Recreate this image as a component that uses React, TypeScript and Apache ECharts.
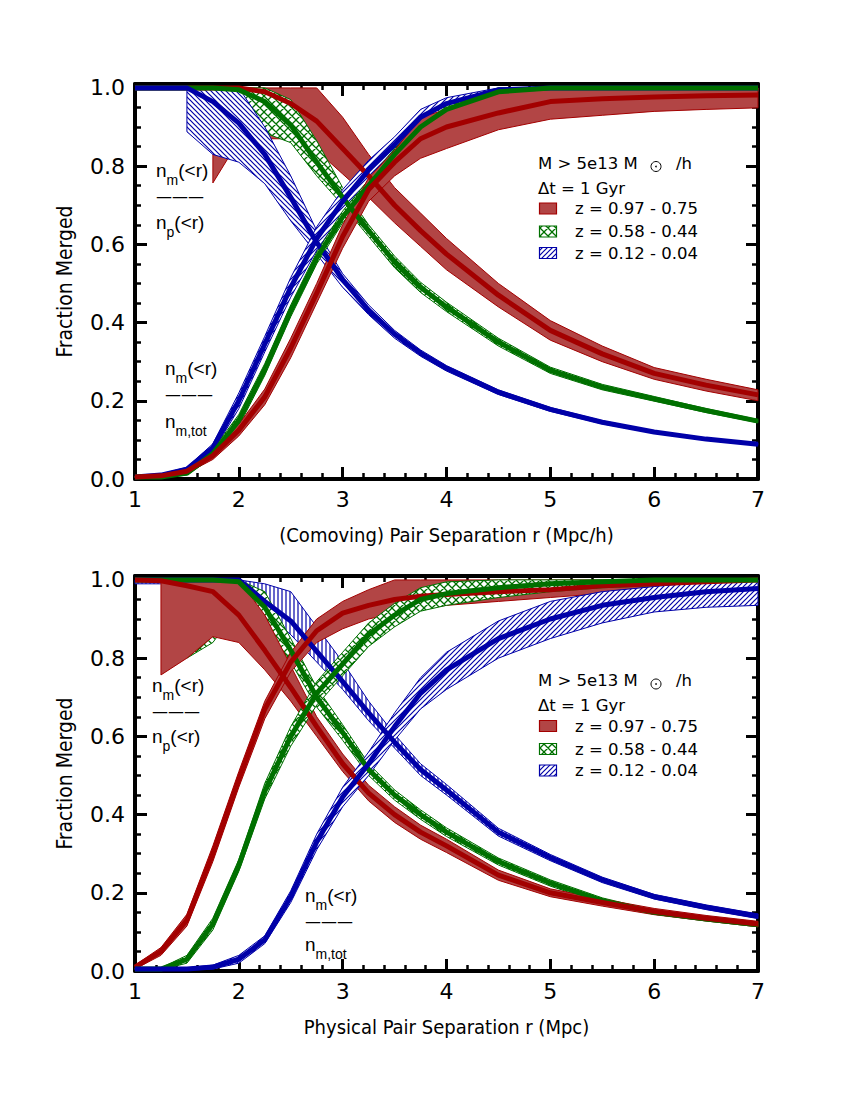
import React, { useEffect, useRef } from 'react';
import * as echarts from 'echarts';

// separation bins (same for both panels)
const R = [1, 1.25, 1.5, 1.75, 2, 2.25, 2.5, 2.75, 3, 3.25, 3.5, 3.75, 4, 4.5, 5, 5.5, 6, 6.5, 7];

// ---------- TOP PANEL (comoving) ----------
// n_m(<r)/n_p(<r)  (decreasing)
const rTopDec = [1, 1, 1, 1, 1, 0.99, 0.96, 0.915, 0.845, 0.775, 0.7, 0.635, 0.575, 0.47, 0.38, 0.32, 0.27, 0.24, 0.215];
const rTopDecLo = [null, null, null, 0.757, 0.865, 0.87, 0.87, 0.84, 0.78, 0.72, 0.655, 0.595, 0.535, 0.44, 0.355, 0.3, 0.255, 0.225, 0.2];
const rTopDecHi = [null, null, null, 1, 1, 1, 1, 1, 0.925, 0.83, 0.745, 0.68, 0.615, 0.5, 0.405, 0.34, 0.285, 0.255, 0.228];
const gTopDec = [1, 1, 1, 1, 0.995, 0.965, 0.905, 0.81, 0.72, 0.635, 0.555, 0.49, 0.44, 0.35, 0.278, 0.235, 0.205, 0.175, 0.148];
const gTopDecLo = [null, null, null, 0.96, 0.91, 0.885, 0.86, 0.775, 0.7, 0.62, 0.54, 0.477, 0.428, 0.34, 0.27, 0.228, 0.199, 0.17, 0.144];
const gTopDecHi = [null, null, null, 1, 1, 1, 0.97, 0.865, 0.745, 0.65, 0.57, 0.503, 0.452, 0.36, 0.286, 0.242, 0.211, 0.18, 0.152];
const bTopDec = [1, 1, 1, 0.965, 0.91, 0.83, 0.72, 0.605, 0.51, 0.432, 0.37, 0.322, 0.283, 0.222, 0.178, 0.145, 0.12, 0.102, 0.089];
const bTopDecLo = [null, null, 0.888, 0.83, 0.81, 0.755, 0.66, 0.575, 0.49, 0.42, 0.36, 0.314, 0.276, 0.216, 0.173, 0.141, 0.117, 0.099, 0.086];
const bTopDecHi = [null, null, 1, 1, 1, 0.9, 0.775, 0.635, 0.525, 0.445, 0.38, 0.33, 0.29, 0.228, 0.183, 0.149, 0.123, 0.105, 0.092];
// n_m(<r)/n_m,tot  (increasing)
const rTopCum = [0.005, 0.008, 0.02, 0.06, 0.125, 0.21, 0.335, 0.475, 0.62, 0.74, 0.81, 0.87, 0.9, 0.936, 0.965, 0.972, 0.977, 0.98, 0.982];
const rTopCumLo = [0.003, 0.005, 0.015, 0.05, 0.11, 0.19, 0.31, 0.45, 0.59, 0.71, 0.775, 0.82, 0.845, 0.893, 0.92, 0.93, 0.94, 0.945, 0.949];
const rTopCumHi = [0.008, 0.011, 0.025, 0.07, 0.14, 0.23, 0.36, 0.5, 0.65, 0.77, 0.84, 0.925, 0.945, 0.99, 1, 1, 1, 1, 1];
const gTopCum = [0.005, 0.005, 0.015, 0.065, 0.15, 0.28, 0.43, 0.565, 0.67, 0.75, 0.83, 0.9, 0.945, 0.99, 1, 1, 1, 1, 1];
const gTopCumLo = [0.003, 0.003, 0.01, 0.055, 0.135, 0.265, 0.415, 0.55, 0.655, 0.735, 0.815, 0.885, 0.93, 0.975, 0.985, 0.99, 0.99, 0.99, 0.99];
const gTopCumHi = [0.008, 0.008, 0.02, 0.075, 0.165, 0.295, 0.445, 0.58, 0.685, 0.765, 0.845, 0.915, 0.96, 1, 1, 1, 1, 1, 1];
const bTopCum = [0.005, 0.01, 0.025, 0.08, 0.2, 0.345, 0.49, 0.615, 0.71, 0.79, 0.855, 0.925, 0.96, 0.995, 1, 1, 1, 1, 1];
const bTopCumLo = [0.003, 0.007, 0.02, 0.07, 0.18, 0.325, 0.465, 0.585, 0.68, 0.765, 0.835, 0.905, 0.945, 0.985, 0.99, 0.99, 0.99, 0.99, 0.99];
const bTopCumHi = [0.008, 0.013, 0.03, 0.09, 0.22, 0.365, 0.515, 0.645, 0.74, 0.815, 0.875, 0.945, 0.975, 1, 1, 1, 1, 1, 1];

// ---------- BOTTOM PANEL (physical) ----------
const rBotDec = [1, 0.998, 0.985, 0.97, 0.91, 0.82, 0.725, 0.625, 0.53, 0.455, 0.4, 0.355, 0.32, 0.245, 0.2, 0.175, 0.152, 0.135, 0.12];
const rBotDecLo = [null, 0.757, 0.8, 0.855, 0.84, 0.77, 0.69, 0.6, 0.51, 0.435, 0.38, 0.337, 0.303, 0.232, 0.19, 0.166, 0.144, 0.128, 0.113];
const rBotDecHi = [null, 1, 1, 1, 1, 0.91, 0.78, 0.65, 0.555, 0.475, 0.42, 0.373, 0.337, 0.258, 0.21, 0.184, 0.16, 0.142, 0.127];
const gBotDec = [1, 1, 1, 1, 0.995, 0.93, 0.82, 0.7, 0.61, 0.515, 0.45, 0.4, 0.355, 0.28, 0.225, 0.18, 0.15, 0.133, 0.118];
const gBotDecLo = [null, null, 0.8, 0.84, 0.93, 0.885, 0.79, 0.675, 0.59, 0.5, 0.437, 0.388, 0.344, 0.271, 0.217, 0.173, 0.145, 0.128, 0.113];
const gBotDecHi = [null, null, 1, 1, 1, 0.97, 0.85, 0.725, 0.63, 0.53, 0.463, 0.412, 0.366, 0.289, 0.233, 0.187, 0.155, 0.138, 0.123];
const bBotDec = [1, 1, 1, 1, 1, 0.945, 0.895, 0.817, 0.74, 0.66, 0.585, 0.515, 0.463, 0.355, 0.29, 0.233, 0.19, 0.163, 0.14];
const bBotDecLo = [0.99, 0.99, 0.99, 0.99, 0.99, 0.92, 0.86, 0.79, 0.72, 0.64, 0.57, 0.5, 0.45, 0.345, 0.282, 0.226, 0.184, 0.157, 0.134];
const bBotDecHi = [1, 1, 1, 1, 1, 0.99, 0.97, 0.88, 0.79, 0.69, 0.605, 0.53, 0.477, 0.365, 0.298, 0.24, 0.196, 0.169, 0.146];
const rBotCum = [0.01, 0.05, 0.13, 0.3, 0.49, 0.67, 0.79, 0.87, 0.915, 0.935, 0.95, 0.958, 0.963, 0.97, 0.975, 0.985, 0.99, 0.995, 1];
const rBotCumLo = [0.005, 0.04, 0.115, 0.28, 0.47, 0.645, 0.765, 0.84, 0.875, 0.9, 0.915, 0.925, 0.935, 0.945, 0.955, 0.965, 0.975, 0.985, 0.99];
const rBotCumHi = [0.015, 0.06, 0.145, 0.32, 0.51, 0.69, 0.815, 0.9, 0.945, 0.975, 1, 1, 1, 1, 1, 1, 1, 1, 1];
const gBotCum = [0.005, 0.005, 0.03, 0.12, 0.27, 0.46, 0.6, 0.71, 0.785, 0.86, 0.91, 0.95, 0.965, 0.98, 0.99, 0.995, 1, 1, 1];
const gBotCumLo = [0.003, 0.003, 0.02, 0.105, 0.255, 0.44, 0.575, 0.68, 0.755, 0.83, 0.88, 0.92, 0.935, 0.955, 0.97, 0.98, 0.985, 0.99, 0.99];
const gBotCumHi = [0.008, 0.008, 0.04, 0.135, 0.285, 0.48, 0.625, 0.74, 0.815, 0.89, 0.94, 0.98, 0.995, 1, 1, 1, 1, 1, 1];
const bBotCum = [0.005, 0.005, 0.005, 0.01, 0.03, 0.08, 0.19, 0.33, 0.445, 0.53, 0.625, 0.71, 0.77, 0.85, 0.9, 0.935, 0.955, 0.97, 0.978];
const bBotCumLo = [0.002, 0.002, 0.002, 0.005, 0.02, 0.07, 0.175, 0.31, 0.42, 0.5, 0.59, 0.67, 0.72, 0.8, 0.85, 0.89, 0.918, 0.93, 0.935];
const bBotCumHi = [0.008, 0.008, 0.008, 0.015, 0.04, 0.09, 0.205, 0.35, 0.47, 0.56, 0.66, 0.75, 0.815, 0.895, 0.945, 0.97, 0.983, 0.995, 1];

const LEGEND_HEAD = ['M > 5e13 M', '/h', 'Δt = 1 Gyr'];
const LEGEND_LABELS = ['z = 0.97 - 0.75', 'z = 0.58 - 0.44', 'z = 0.12 - 0.04'];
const X_TITLES = ['(Comoving) Pair Separation r (Mpc/h)', 'Physical Pair Separation r (Mpc)'];
const Y_TITLE = 'Fraction Merged';

const RED_LINE = '#a30000';
const RED_FILL = '#b24545';
const GREEN = '#007000';
const BLUE = '#0000a8';

const AXIS_FONT = "'Liberation Sans Narrow', 'DejaVu Sans Condensed', 'Liberation Sans', sans-serif";
const TICK_FONT = "'DejaVu Sans', sans-serif";
const TEXT_FONT = "'DejaVu Sans', sans-serif";
const NOTE_FONT = "'Liberation Sans', sans-serif";

function hatch(kind: string, color: string): HTMLCanvasElement {
  const s = kind === 'cross' ? 8 : kind === 'vert' ? 4 : 5;
  const c = document.createElement('canvas');
  c.width = s;
  c.height = s;
  const g = c.getContext('2d')!;
  g.fillStyle = '#ffffff';
  g.fillRect(0, 0, s, s);
  g.strokeStyle = color;
  g.lineWidth = kind === 'cross' ? 1.3 : 1.2;
  g.beginPath();
  if (kind === 'fwd' || kind === 'cross') {
    g.moveTo(-1, s + 1); g.lineTo(s + 1, -1);
    g.moveTo(-1, 1); g.lineTo(1, -1);
    g.moveTo(s - 1, s + 1); g.lineTo(s + 1, s - 1);
  }
  if (kind === 'back' || kind === 'cross') {
    g.moveTo(-1, -1); g.lineTo(s + 1, s + 1);
    g.moveTo(s - 1, -1); g.lineTo(s + 1, 1);
    g.moveTo(-1, s - 1); g.lineTo(1, s + 1);
  }
  if (kind === 'vert') {
    g.moveTo(s / 2, 0); g.lineTo(s / 2, s);
  }
  g.stroke();
  return c;
}

function band(xi: number, lo: (number | null)[], hi: (number | null)[], fill: any, stroke: string) {
  const rows: number[][] = [];
  R.forEach((x, i) => {
    if (lo[i] != null && hi[i] != null) rows.push([x, lo[i] as number, hi[i] as number]);
  });
  return {
    type: 'custom',
    xAxisIndex: xi,
    yAxisIndex: xi,
    data: rows,
    encode: { x: 0, y: [1, 2] },
    silent: true,
    renderItem: (params: any, api: any) => {
      if (params.dataIndex !== 0) return null;
      const top = rows.map((r) => api.coord([r[0], r[2]]));
      const bot = rows.map((r) => api.coord([r[0], r[1]])).reverse();
      return {
        type: 'polygon',
        shape: { points: top.concat(bot) },
        style: { fill, stroke, lineWidth: 1 },
      };
    },
  };
}

function line(xi: number, c: number[], color: string) {
  return {
    type: 'line',
    xAxisIndex: xi,
    yAxisIndex: xi,
    data: R.map((x, i) => [x, c[i]]),
    symbol: 'none',
    silent: true,
    lineStyle: { color, width: 5, join: 'round' },
  };
}

function xAx(grid: number, pos: string, name?: string) {
  return {
    type: 'value', gridIndex: grid, position: pos, min: 1, max: 7, interval: 1,
    axisLine: { show: true, onZero: false, lineStyle: { color: '#000', width: 4 } },
    axisTick: { show: true, inside: true, length: 12, lineStyle: { color: '#000', width: 3 } },
    minorTick: { show: true, splitNumber: 5, length: 6, lineStyle: { color: '#000', width: 2.5 } },
    splitLine: { show: false },
    axisLabel: { show: !!name, margin: 9, fontSize: 22, fontFamily: TICK_FONT, color: '#000' },
    name: name || '',
    nameLocation: 'middle',
    nameGap: 46,
    nameTextStyle: { fontSize: 20, fontFamily: AXIS_FONT, color: '#000' },
  };
}

function yAx(grid: number, pos: string, labels: boolean) {
  return {
    type: 'value', gridIndex: grid, position: pos, min: 0, max: 1.01, interval: 0.2,
    axisLine: { show: true, onZero: false, lineStyle: { color: '#000', width: 4 } },
    axisTick: { show: true, inside: true, length: 12, lineStyle: { color: '#000', width: 3 } },
    minorTick: { show: true, splitNumber: 4, length: 6, lineStyle: { color: '#000', width: 2.5 } },
    splitLine: { show: false },
    axisLabel: {
      show: labels, margin: 10, fontSize: 22, fontFamily: TICK_FONT, color: '#000',
      formatter: (v: number) => (Math.abs(v * 5 - Math.round(v * 5)) < 1e-6 ? v.toFixed(1) : ''),
    },
    name: labels ? Y_TITLE : '',
    nameLocation: 'middle',
    nameGap: 60,
    nameTextStyle: { fontSize: 21, fontFamily: AXIS_FONT, color: '#000' },
  };
}

const RICH = {
  a: { fontSize: 19, fontFamily: NOTE_FONT, lineHeight: 34, fill: '#000' },
  b: { fontSize: 14, fontFamily: NOTE_FONT, verticalAlign: 'bottom', fill: '#000' },
};

function frac(x: number, y: number, sub: string) {
  return {
    type: 'text', x, y,
    style: { text: `{a|n}{b|${sub}}{a|(<r)}`, verticalAlign: 'middle', rich: RICH },
  };
}
function fracTot(x: number, y: number) {
  return {
    type: 'text', x, y,
    style: { text: `{a|n}{b|m,tot}`, verticalAlign: 'middle', rich: RICH },
  };
}
function bar(x: number, y: number) {
  return { type: 'text', x, y, style: { text: '———', fontSize: 16, fontFamily: TEXT_FONT, fill: '#000', verticalAlign: 'middle' } };
}
function txt(x: number, y: number, s: string) {
  return { type: 'text', x, y, style: { text: s, fontSize: 16.5, fontFamily: TEXT_FONT, fill: '#000', verticalAlign: 'middle' } };
}

function legend(y0: number, pats: any[]) {
  const els: any[] = [];
  els.push(txt(538, y0, LEGEND_HEAD[0]));
  els.push({ type: 'circle', shape: { cx: 656, cy: y0 + 3.5, r: 5 }, style: { fill: 'none', stroke: '#000', lineWidth: 1 } });
  els.push({ type: 'circle', shape: { cx: 656, cy: y0 + 3.5, r: 0.8 }, style: { fill: '#000' } });
  els.push(txt(676, y0, LEGEND_HEAD[1]));
  els.push(txt(538, y0 + 25, LEGEND_HEAD[2]));
  const rowY = [y0 + 45.5, y0 + 68.5, y0 + 90];
  const strokes = [RED_LINE, GREEN, BLUE];
  LEGEND_LABELS.forEach((s, i) => {
    els.push({ type: 'rect', shape: { x: 539.5, y: rowY[i] - 5.5, width: 17, height: 11 }, style: { fill: pats[i], stroke: strokes[i], lineWidth: 1.2 } });
    els.push(txt(575, rowY[i], s));
  });
  return els;
}

export default function App() {
  const ref = useRef<HTMLDivElement>(null);
  useEffect(() => {
    document.body.style.margin = '0';
    const chart = echarts.init(ref.current!, null, { renderer: 'svg' });
    const crossG = { image: hatch('cross', GREEN), repeat: 'repeat' };
    const fwdB = { image: hatch('fwd', BLUE), repeat: 'repeat' };
    const backB = { image: hatch('back', BLUE), repeat: 'repeat' };
    const vertB = { image: hatch('vert', BLUE), repeat: 'repeat' };

    const series: any[] = [
      // top panel
      band(0, rTopDecLo, rTopDecHi, RED_FILL, RED_LINE), line(0, rTopDec, RED_LINE),
      band(0, gTopDecLo, gTopDecHi, crossG, GREEN), line(0, gTopDec, GREEN),
      band(0, bTopDecLo, bTopDecHi, backB, BLUE), line(0, bTopDec, BLUE),
      band(0, bTopCumLo, bTopCumHi, fwdB, BLUE), line(0, bTopCum, BLUE),
      band(0, gTopCumLo, gTopCumHi, crossG, GREEN), line(0, gTopCum, GREEN),
      band(0, rTopCumLo, rTopCumHi, RED_FILL, RED_LINE), line(0, rTopCum, RED_LINE),
      // bottom panel
      band(1, bBotDecLo, bBotDecHi, vertB, BLUE), line(1, bBotDec, BLUE),
      band(1, gBotDecLo, gBotDecHi, crossG, GREEN), line(1, gBotDec, GREEN),
      band(1, rBotDecLo, rBotDecHi, RED_FILL, RED_LINE), line(1, rBotDec, RED_LINE),
      band(1, rBotCumLo, rBotCumHi, RED_FILL, RED_LINE), line(1, rBotCum, RED_LINE),
      band(1, gBotCumLo, gBotCumHi, crossG, GREEN), line(1, gBotCum, GREEN),
      band(1, bBotCumLo, bBotCumHi, fwdB, BLUE), line(1, bBotCum, BLUE),
    ];

    const graphics: any[] = [
      frac(156, 170, 'm'), bar(156, 196), frac(156, 222, 'p'),
      frac(165, 368, 'm'), bar(165, 394), fracTot(165, 421),
      frac(152, 685, 'm'), bar(152, 711), frac(152, 736, 'p'),
      frac(305, 895, 'm'), bar(305, 921), fracTot(305, 944),
      ...legend(163, [RED_FILL, crossG, fwdB]),
      ...legend(680.5, [RED_FILL, crossG, fwdB]),
    ];

    chart.setOption({
      animation: false,
      backgroundColor: '#fff',
      grid: [
        { left: 135, top: 84, width: 623, height: 395 },
        { left: 135, top: 576, width: 623, height: 395 },
      ],
      xAxis: [
        xAx(0, 'bottom', X_TITLES[0]), xAx(1, 'bottom', X_TITLES[1]),
        xAx(0, 'top'), xAx(1, 'top'),
      ],
      yAxis: [
        yAx(0, 'left', true), yAx(1, 'left', true),
        yAx(0, 'right', false), yAx(1, 'right', false),
      ],
      series,
      graphic: graphics,
    });
    return () => chart.dispose();
  }, []);
  return <div ref={ref} style={{ width: 850, height: 1100 }} />;
}
